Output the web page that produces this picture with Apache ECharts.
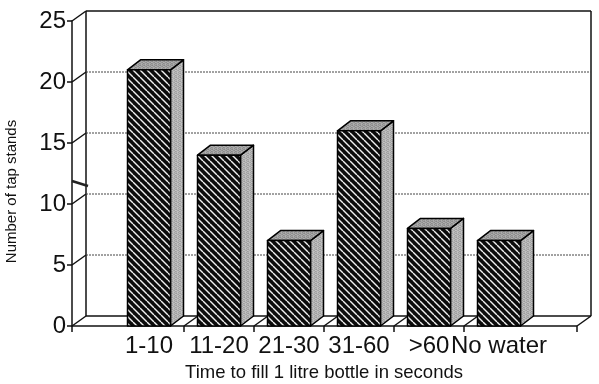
<!DOCTYPE html>
<html><head><meta charset="utf-8">
<style>html,body{margin:0;background:#fff}#c{width:599px;height:384px}</style>
<script src="https://cdn.jsdelivr.net/npm/echarts@6/dist/echarts.min.js"></script>
</head><body><div id="c"></div>
<script>
const categories = ['1-10','11-20','21-30','31-60','>60','No water'];
const tapStands = [21,14,7,16,8,7];
const yTicks = [5,10,15,20,25];
const DX = 14, DY = -10, LEFT_PAD = 42, RIGHT_PAD = 43;
const INK = '#111';

function hatch(){
  const p = 7, c = document.createElement('canvas');
  c.width = p; c.height = p;
  const g = c.getContext('2d');
  g.fillStyle = '#0c0c0c'; g.fillRect(0,0,p,p);
  g.strokeStyle = '#f0f0f0'; g.lineWidth = 1.4;
  for (let k=-p;k<=p;k+=p){ g.beginPath(); g.moveTo(k,0); g.lineTo(k+p,p); g.stroke(); }
  return c;
}
function mottle(base){
  const tile = [0,18,-14,8,-20,12,6,-10,14,-6,-16,20,-8,16,10,-18];
  const c = document.createElement('canvas');
  c.width = 4; c.height = 4;
  const g = c.getContext('2d');
  tile.forEach((d,i)=>{
    const v = base+d;
    g.fillStyle = 'rgb('+v+','+v+','+v+')';
    g.fillRect(i%4,Math.floor(i/4),1,1);
  });
  return {image:c,repeat:'repeat'};
}
const hatchFill = {image: hatch(), repeat:'repeat'};
const sideFill = mottle(176), topFill = mottle(156);

function line(x1,y1,x2,y2,style){
  return {type:'line',shape:{x1,y1,x2,y2},style:Object.assign({stroke:INK,lineWidth:1.5},style||{})};
}
function frame(params, api){
  const band = api.size([1,0])[0];
  const o = api.coord([0,0]), t = api.coord([0,25]);
  const x0 = o[0]-band/2-LEFT_PAD, yB = o[1], yT = t[1];
  const x1 = o[0]-band/2+band*categories.length+RIGHT_PAD;
  const ch = [
    line(x0+DX,yT+DY,x1+DX,yT+DY),
    line(x0+DX,yT+DY,x0+DX,yB+DY),
    line(x1+DX,yT+DY,x1+DX,yB+DY),
    line(x0,yT,x0+DX,yT+DY),
    line(x0+DX,yB+DY,x1+DX,yB+DY),
    line(x0,yB,x1,yB),
    line(x0,yB,x0+DX,yB+DY),
    line(x1,yB,x1+DX,yB+DY),
    line(x0,yB,x0,yB+6),
    line(x1,yB,x1,yB+6),
    line(x0,yB-145,x0+16,yB-140,{lineWidth:2.5,stroke:'#222'})
  ];
  yTicks.slice(0,4).forEach(v=>{
    const y = api.coord([0,v])[1];
    ch.push(line(x0+DX,y+DY,x1+DX,y+DY,{stroke:'#444',lineWidth:1,lineDash:[2,1]}));
    ch.push(line(x0,y,x0+DX,y+DY));
  });
  for(let i=1;i<categories.length;i++){
    const x = o[0]-band/2+band*i;
    ch.push(line(x,yB,x,yB+6));
    ch.push(line(x,yB,x+DX,yB+DY));
  }
  return {type:'group',children:ch};
}
function bar(params, api){
  const w = 43;
  const b = api.coord([api.value(0),0]), t = api.coord([api.value(0),api.value(1)]);
  const l = b[0]-w/2, r = l+w, yT = t[1], yB = b[1];
  const edge = {stroke:'#000',lineWidth:1.5,lineJoin:'round'};
  return {type:'group',children:[
    {type:'polygon',shape:{points:[[r,yT],[r+DX-1,yT+DY],[r+DX-1,yB+DY],[r,yB]]},style:Object.assign({fill:sideFill},edge)},
    {type:'polygon',shape:{points:[[l,yT],[l+DX-1,yT+DY],[r+DX-1,yT+DY],[r,yT]]},style:Object.assign({fill:topFill},edge)},
    {type:'rect',shape:{x:l,y:yT,width:w,height:yB-yT},style:Object.assign({fill:hatchFill},edge)}
  ]};
}
const chart = echarts.init(document.getElementById('c'),null,{renderer:'canvas'});
chart.setOption({
  animation:false,
  backgroundColor:'#fff',
  textStyle:{fontFamily:'Liberation Sans'},
  grid:{left:114,right:65,top:21,bottom:58,outerBoundsMode:'none'},
  xAxis:{type:'category',data:categories,
    axisLine:{show:false},axisTick:{show:false},splitLine:{show:false},
    axisLabel:{interval:0,hideOverlap:false,fontSize:24,color:INK,margin:8,fontFamily:'Liberation Sans'},
    name:'Time to fill 1 litre bottle in seconds',nameLocation:'middle',nameGap:37,
    nameTextStyle:{fontSize:18.5,color:INK,fontFamily:'Liberation Sans'}},
  yAxis:{type:'value',min:0,max:25,interval:5,position:'left',offset:42,
    axisLine:{show:true,lineStyle:{color:INK,width:1.5}},
    axisTick:{show:true,length:5,lineStyle:{color:INK,width:1.5}},
    splitLine:{show:false},
    axisLabel:{fontSize:24,color:INK,margin:6,fontFamily:'Liberation Sans'},
    name:'Number of tap stands',nameLocation:'middle',nameGap:53,
    nameTextStyle:{fontSize:15,color:INK,fontFamily:'Liberation Sans',padding:[0,36,0,0]}},
  series:[
    {type:'custom',coordinateSystem:'cartesian2d',clip:false,silent:true,z:1,data:[[0,0]],renderItem:frame},
    {type:'custom',coordinateSystem:'cartesian2d',clip:false,silent:true,z:2,
      data:categories.map((c,i)=>[i,tapStands[i]]),encode:{x:0,y:1},renderItem:bar}
  ]
});
</script></body></html>
